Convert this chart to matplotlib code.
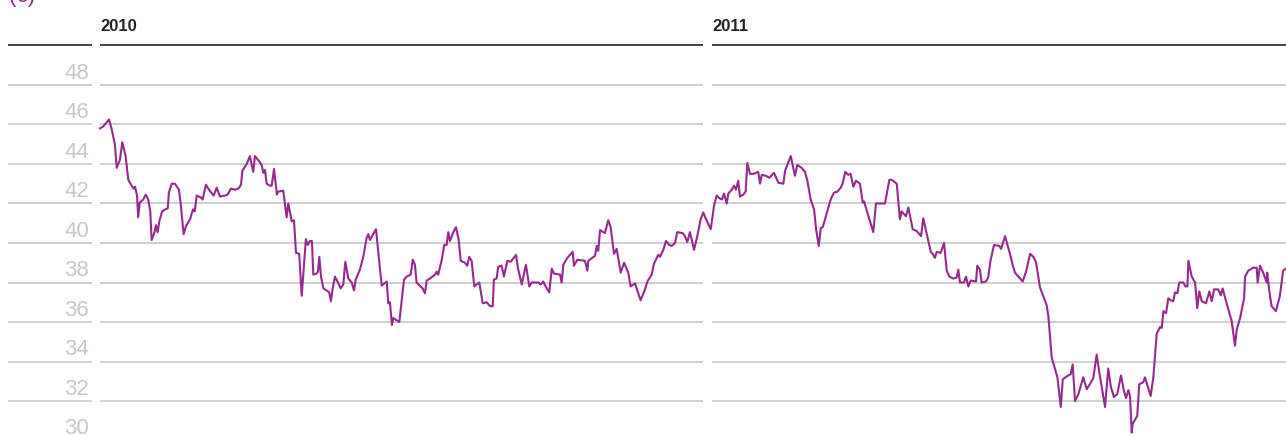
import numpy as np
import matplotlib
matplotlib.use("Agg")
import matplotlib.pyplot as plt

plt.rcParams['font.family'] = ['Liberation Sans', 'DejaVu Sans']

# share price (EUR), days counted from 1 Jan 2010
days = [0, 2.0, 5.4, 7.0, 8.9, 10.0, 11.9, 13.3, 15.3, 16.9, 18.9, 20.1, 20.9, 22.1, 22.8, 23.7,
        25.8, 27.3, 28.8, 30.0, 30.8, 32.4, 33.4, 34.4, 35.4, 37.1, 38.8, 40.4, 41.1, 42.8, 44.7,
        47.1, 48.3, 49.9, 51.3, 53.7, 55.5, 56.5, 57.7, 60.2, 61.2, 63.2, 65.0, 67.8, 69.6, 71.6,
        74.5, 76.1, 78.1, 80.5, 82.5, 84.1, 84.9, 87.5, 89.4, 91.4, 92.4, 94.8, 96.4, 97.4, 98.4,
        99.4, 101.4, 102.4, 103.8, 105.5, 106.3, 109.3, 111.3, 112.3, 114.3, 115.7, 116.9, 118.8,
        120.3, 122.8, 123.9, 125.2, 126.4, 127.2, 129.2, 130.0, 130.8, 131.8, 133.2, 135.2, 136.7,
        137.7, 138.8, 140.1, 142.1, 143.5, 145.1, 146.3, 148.1, 150.1, 151.5, 152.5, 155.0, 157.0,
        159.0, 160.0, 161.0, 163.0, 164.6, 166.0, 168.0, 171.0, 171.9, 172.9, 174.1, 174.9, 178.5,
        181.3, 182.9, 185.3, 186.5, 187.8, 188.8, 192.4, 193.8, 194.8, 196.8, 199.8, 200.8, 201.7,
        203.8, 205.3, 206.7, 207.7, 208.7, 210.7, 212.3, 213.9, 215.1, 217.6, 219.0, 220.2, 221.6,
        223.2, 224.6, 226.2, 228.2, 230.6, 232.6, 234.2, 234.9, 236.5, 237.5, 239.5, 240.9, 242.9,
        244.9, 248.1, 249.3, 251.5, 254.0, 256.0, 257.4, 261.4, 262.8, 264.3, 266.4, 267.9, 269.4,
        270.7, 274.3, 275.3, 276.3, 278.7, 281.9, 282.6, 284.6, 289.2, 290.6, 291.2, 295.2, 296.2,
        297.1, 298.2, 301.1, 303.1, 304.5, 306.5, 308.1, 310.5, 312.5, 315.0, 316.4, 319.0, 322.4,
        325.0, 326.4, 329.0, 330.3, 332.9, 333.9, 335.9, 337.5, 339.5, 340.9, 342.9, 344.2, 347.4,
        348.8, 350.2, 351.8, 354.2, 355.8, 358.2, 359.7, 361.4, 364.2,
        366.1, 367.7, 369.3, 370.9, 372.1, 373.7, 374.7, 376.7, 378.1, 379.2, 380.6, 381.6, 383.6,
        385.0, 386.0, 387.6, 389.6, 392.5, 393.6, 394.6, 397.1, 399.1, 401.9, 404.5, 407.5, 408.5,
        411.9, 414.4, 415.8, 418.4, 420.4, 421.8, 423.8, 425.8, 427.0, 428.6, 429.8, 431.0, 433.7,
        435.7, 437.7, 439.7, 441.7, 442.8, 444.4, 446.2, 447.6, 449.2, 450.8, 453.2, 454.8, 455.6,
        457.2, 459.2, 461.1, 462.7, 468.1, 470.7, 472.1, 475.1, 477.0, 478.0, 480.6, 482.0, 484.6,
        487.0, 489.0, 489.6, 490.9, 493.3, 495.4, 496.5, 497.9, 498.9, 501.3, 503.3, 504.9, 506.4,
        508.8, 510.8, 511.8, 512.8, 515.2, 516.4, 517.8, 519.2, 522.4, 523.1, 524.7, 525.7, 528.3,
        529.6, 531.1, 533.1, 536.3, 537.3, 539.7, 541.6, 543.1, 544.3, 545.6, 550.2, 552.2, 554.6,
        556.5, 558.1, 560.5, 564.5, 565.5, 567.5, 570.9, 572.9, 574.1, 577.4, 578.8, 580.0, 581.4,
        583.4, 586.3, 588.4, 592.3, 594.3, 595.9, 599.3, 601.2, 602.7, 604.6, 606.6, 608.8, 610.6,
        611.8, 613.2, 614.2, 615.2, 615.8, 618.5, 619.7, 622.1, 623.1, 626.5, 628.1, 630.1, 632.1,
        633.1, 634.1, 635.7, 637.0, 638.5, 640.0, 641.0, 642.4, 643.6, 646.0, 647.2, 648.4, 649.0,
        651.0, 653.0, 654.3, 655.5, 657.0, 659.5, 661.5, 662.9, 664.3, 666.8, 668.3, 669.4, 671.8,
        674.8, 676.8, 677.8, 679.8, 682.2, 682.8, 684.7, 687.7, 689.7, 690.3, 691.7, 693.6, 695.7,
        696.0, 697.2, 698.6, 701.2, 703.5, 705.5, 707.2]

price = [45.8, 45.9, 46.25, 45.75, 45.0, 43.8, 44.2, 45.1, 44.4, 43.2, 42.9, 42.75, 42.85, 42.4, 41.3, 42.05,
         42.2, 42.45, 42.2, 41.6, 40.15, 40.5, 40.9, 40.55, 41.1, 41.6, 41.7, 41.75, 42.55, 43.0, 43.0,
         42.7, 41.85, 40.45, 40.85, 41.2, 41.7, 41.6, 42.4, 42.3, 42.2, 42.95, 42.7, 42.4, 42.8, 42.35,
         42.4, 42.45, 42.75, 42.7, 42.75, 42.95, 43.65, 44.0, 44.4, 43.6, 44.4, 44.15, 43.95, 43.55, 43.7,
         43.0, 42.9, 42.9, 43.75, 42.45, 42.6, 42.65, 41.3, 42.0, 41.1, 41.15, 39.5, 39.45,
         37.33, 40.2, 39.9, 40.1, 40.1, 38.4, 38.45, 38.55, 39.3, 38.3, 37.7, 37.6, 37.5,
         37.05, 37.7, 38.3, 37.97, 37.7, 37.9, 39.05, 38.2, 38.0, 37.6, 38.15, 38.65, 39.3,
         40.25, 40.45, 40.15, 40.45, 40.7, 39.5, 37.85, 38.05, 36.95, 37.0, 35.85, 36.2, 36.0,
         38.15, 38.3, 38.4, 39.15, 38.9, 38.0, 37.7, 37.45, 38.1, 38.2, 38.4, 38.55, 38.4,
         39.15, 39.9, 39.9, 40.55, 40.1, 40.55, 40.8, 40.15, 39.1, 39.0, 38.85, 39.3, 39.1,
         37.8, 37.9, 38.0, 36.95, 37.0, 36.8, 36.8, 38.15, 38.2, 38.8, 38.85, 38.3, 39.1,
         39.05, 39.4, 38.7, 37.9, 38.9, 37.8, 38.0, 38.0, 37.9, 38.05, 37.7, 37.5, 38.7,
         38.45, 38.4, 38.0, 38.9, 39.25, 39.55, 38.85, 39.15, 39.1, 38.6, 39.1, 39.35, 39.85,
         39.6, 40.65, 40.5, 41.15, 40.8, 39.45, 39.7, 38.5, 39.0, 38.5, 37.8, 37.95, 37.1,
         37.65, 38.05, 38.4, 38.95, 39.4, 39.3, 39.65, 40.1, 39.9, 39.85, 40.0, 40.55, 40.5,
         40.35, 40.05, 40.55, 39.65, 40.2, 41.2, 41.55, 41.2, 40.7,
         41.85, 42.4, 42.27, 42.2, 42.5, 42.0, 42.5, 42.7, 42.9, 42.7, 43.15, 42.35, 42.45,
         42.6, 44.05, 43.5, 43.5, 43.6, 43.0, 43.45, 43.4, 43.3, 43.55, 43.05, 43.0, 43.65,
         44.4, 43.4, 43.95, 43.8, 43.6, 43.15, 42.2, 41.7, 40.7, 39.85, 40.75, 40.8, 41.6,
         42.2, 42.55, 42.6, 42.8, 43.0, 43.6, 43.45, 43.5, 42.85, 43.15, 43.0, 42.05, 42.1,
         41.65, 41.1, 40.55, 42.0, 42.0, 43.2, 43.2, 43.0, 41.2, 41.6, 41.35, 41.8, 40.7,
         40.6, 40.4, 40.35, 41.25, 40.35, 39.55, 39.45, 39.25, 39.55, 39.5, 40.0, 38.6, 38.3,
         38.2, 38.25, 38.65, 38.0, 38.0, 38.3, 37.8, 38.1, 38.05, 38.85, 38.65, 38.0, 38.05,
         38.25, 39.15, 39.9, 39.85, 39.7, 40.35, 39.75, 39.3, 38.85, 38.5, 38.05, 38.55, 39.45,
         39.3, 39.05, 37.75, 36.85, 36.3, 34.2, 33.2, 31.7, 33.1, 33.3, 33.35, 33.85, 32.0,
         32.35, 33.2, 32.6, 33.15, 34.35, 33.45, 31.7, 33.65, 32.75, 32.2, 32.35, 33.3, 32.5,
         32.15, 32.55, 32.25, 30.4, 30.85, 31.25, 32.85, 32.95, 33.2, 32.25, 33.2, 35.4, 35.75,
         35.7, 36.55, 36.45, 37.2, 37.1, 37.05, 37.5, 37.45, 38.0, 38.0, 37.8, 37.8, 39.1,
         38.3, 38.0, 36.7, 37.55, 37.05, 36.95, 37.55, 37.05, 37.65, 37.65, 37.35, 37.7, 36.95,
         36.05, 34.8, 35.6, 36.2, 37.2, 38.3, 38.6, 38.75, 38.75, 38.0, 38.85, 38.5, 38.0,
         38.5, 37.6, 36.8, 36.55, 37.3, 38.6, 38.7]

years = ['2010', '2011']
year_start = [0, 365]
y_ticks = [30, 32, 34, 36, 38, 40, 42, 44, 46, 48]

fig = plt.figure(figsize=(12.86, 4.36), dpi=100)
ax = fig.add_axes([0, 0, 1, 1])
ax.set_xlim(-59.6, 707.2)
ax.set_ylim(30.23, 52.30)
ax.axis('off')

# column segments: labels column, 2010 panel, 2011 panel
segs = [(-54.9, -4.8), (0, 359.6), (364.9, 720)]

for v in y_ticks[1:]:
    for a, b in segs:
        ax.plot([a, b], [v, v], color='#cccccc', lw=1.3, solid_capstyle='butt', zorder=1)
for a, b in segs:
    ax.plot([a, b], [50, 50], color='#333333', lw=1.3, solid_capstyle='butt', zorder=1)

for v in y_ticks:
    ax.text(-6.6, v + 0.6, str(v), ha='right', va='center', fontsize=16, color='#c8c8c8')

for lab, d in zip(years, year_start):
    ax.text(d, 50.95, lab, ha='left', va='center', fontsize=12, fontweight='bold', color='#222222')

ax.text(-54.3, 52.2, '(€)', ha='left', va='baseline', fontsize=16, color='#962a8c', clip_on=False)

ax.plot(days, price, color='#962a8c', lw=1.5, zorder=3)

fig.savefig('out.png', dpi=100)
